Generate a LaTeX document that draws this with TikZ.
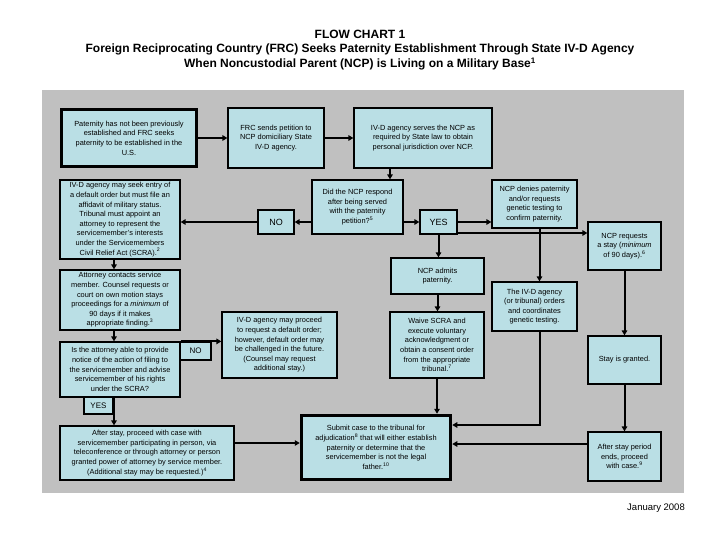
\documentclass[tikz,border=0pt]{standalone}
\usepackage{fontspec}
\setmainfont{Liberation Sans}
\usetikzlibrary{arrows.meta}
\definecolor{bg}{RGB}{192,192,192}
\definecolor{boxfill}{RGB}{186,223,229}
\begin{document}
\begin{tikzpicture}[x=1pt,y=-1pt,
  box/.style={draw=black, line width=1.2pt, fill=boxfill, align=center, inner sep=0pt, font=\fontsize{7.4}{9.6}\selectfont},
  thickbox/.style={box, line width=3.5pt},
  lbl/.style={box, font=\fontsize{9}{10}\selectfont},
  slbl/.style={box, font=\fontsize{8}{9}\selectfont},
  arr/.style={line width=2pt, -{Triangle[length=5pt,width=5.5pt]}},
  ln/.style={line width=2pt}]
\useasboundingbox (0,0) rectangle (720,540);
\fill[bg] (42,90) rectangle (684,493);

\node[font=\bfseries\fontsize{12}{14.5}\selectfont, align=center] (title) at (360,50)
  {FLOW CHART 1\\ Foreign Reciprocating Country (FRC) Seeks Paternity Establishment Through State IV-D Agency\\ When Noncustodial Parent (NCP) is Living on a Military Base\textsuperscript{1}};

% top row
\node[thickbox, minimum width=135pt, minimum height=57pt] (A) at (129,138)
  {Paternity has not been previously\\ established and FRC seeks\\ paternity to be established in the\\ U.S.};
\node[box, minimum width=96pt, minimum height=60pt] (B) at (276,138)
  {FRC sends petition to\\ NCP domiciliary State\\ IV-D agency.};
\node[box, minimum width=138pt, minimum height=60pt] (C) at (423,138)
  {IV-D agency serves the NCP as\\ required by State law to obtain\\ personal jurisdiction over NCP.};

% decision row
\node[box, minimum width=91pt, minimum height=54pt] (D) at (357.5,207)
  {Did the NCP respond\\ after being served\\ with the paternity\\ petition?\textsuperscript{5}};
\node[lbl, minimum width=36pt, minimum height=24pt] (NO1) at (276,222) {NO};
\node[lbl, minimum width=37pt, minimum height=24pt] (YES1) at (438.5,222) {YES};
\node[box, minimum width=120pt, minimum height=79pt] (E) at (120,219.5)
  {IV-D agency may seek entry of\\ a default order but must file an\\ affidavit of military status.\\ Tribunal must appoint an\\ attorney to represent the\\ servicemember's interests\\ under the Servicemembers\\ Civil Relief Act (SCRA).\textsuperscript{2}};
\node[box, minimum width=85pt, minimum height=48pt] (F) at (534.5,204)
  {NCP denies paternity\\ and/or requests\\ genetic testing to\\ confirm paternity.};
\node[box, minimum width=73pt, minimum height=48pt] (G) at (624.5,246)
  {NCP requests\\ a stay (\textit{minimum}\\ of 90 days).\textsuperscript{6}};

% middle
\node[box, minimum width=93pt, minimum height=36pt] (H) at (437.5,276)
  {NCP admits\\ paternity.};
\node[box, minimum width=94pt, minimum height=66pt] (I) at (437,345)
  {Waive SCRA and\\ execute voluntary\\ acknowledgment or\\ obtain a consent order\\ from the appropriate\\ tribunal.\textsuperscript{7}};
\node[box, minimum width=85pt, minimum height=49pt] (J) at (534.5,306.5)
  {The IV-D agency\\ (or tribunal) orders\\ and coordinates\\ genetic testing.};
\node[box, minimum width=73pt, minimum height=48pt] (K) at (624.5,360)
  {Stay is granted.};
\node[box, minimum width=120pt, minimum height=60pt] (N) at (120,300)
  {Attorney contacts service\\ member. Counsel requests or\\ court on own motion stays\\ proceedings for a \textit{minimum} of\\ 90 days if it makes\\ appropriate finding.\textsuperscript{3}};
\node[box, minimum width=120pt, minimum height=55pt] (O) at (120,369.5)
  {Is the attorney able to provide\\ notice of the action of filing to\\ the servicemember and advise\\ servicemember of his rights\\ under the SCRA?};
\node[slbl, minimum width=31pt, minimum height=18pt] (NO2) at (195.5,351) {NO};
\node[box, minimum width=115pt, minimum height=66pt] (P) at (279.5,345)
  {IV-D agency may proceed\\ to request a default order;\\ however, default order may\\ be challenged in the future.\\ (Counsel may request\\ additional stay.)};
\node[slbl, minimum width=29pt, minimum height=17pt] (YES2) at (98.5,405.5) {YES};

% bottom
\node[box, minimum width=174pt, minimum height=54pt] (Q) at (147,453)
  {After stay, proceed with case with\\ servicemember participating in person, via\\ teleconference or through attorney or person\\ granted power of attorney by service member.\\ (Additional stay may be requested.)\textsuperscript{4}};
\node[thickbox, minimum width=149pt, minimum height=64pt] (L) at (376,447.5)
  {Submit case to the tribunal for\\ adjudication\textsuperscript{8} that will either establish\\ paternity or determine that the\\ servicemember is not the legal\\ father.\textsuperscript{10}};
\node[box, minimum width=73pt, minimum height=49pt] (M) at (624.5,456.5)
  {After stay period\\ ends, proceed\\ with case.\textsuperscript{9}};

\node[anchor=east, font=\fontsize{9.5}{10}\selectfont, inner sep=0pt] (date) at (685,508) {January 2008};

% connectors
\draw[arr] (A.east) -- (B.west);
\draw[arr] (B.east) -- (C.west);
\draw[arr] ([xshift=-33pt]C.south) -- ([xshift=-33pt]C.south |- D.north);
\draw[arr] (D.west |- NO1.east) -- (NO1.east);
\draw[arr] (NO1.west) -- (NO1.west -| E.east);
\draw[arr] (D.east |- YES1.west) -- (YES1.west);
\draw[arr] (YES1.east) -- (YES1.east -| F.west);
\draw[arr] ([yshift=-11pt]YES1.east) -- ([yshift=-11pt]YES1.east -| G.west);
\draw[arr] (YES1.south) -- (YES1.south |- H.north);
\draw[arr] (H.south) -- (H.south |- I.north);
\draw[arr] (I.south) -- (I.south |- L.north);
\draw[arr] ([xshift=5pt]F.south) -- ([xshift=5pt]F.south |- J.north);
\draw[arr] ([xshift=5pt]J.south) |- ([yshift=22.5pt]L.east);
\draw[arr] (G.south) -- (K.north);
\draw[arr] (K.south) -- (M.north);
\draw[arr] ([yshift=12.5pt]M.west) -- ([yshift=12.5pt]M.west -| L.east);
\draw[arr] ([xshift=-6pt]E.south) -- ([xshift=-6pt]E.south |- N.north);
\draw[arr] ([xshift=-6pt]N.south) -- ([xshift=-6pt]N.south |- O.north);
\draw[arr] (O.north east) -- (O.north east -| P.west);
\draw[arr] ([xshift=-6pt]O.south) -- ([xshift=-6pt]O.south |- Q.north);
\draw[arr] ([yshift=10pt]Q.east) -- ([yshift=10pt]Q.east -| L.west);
\end{tikzpicture}
\end{document}
